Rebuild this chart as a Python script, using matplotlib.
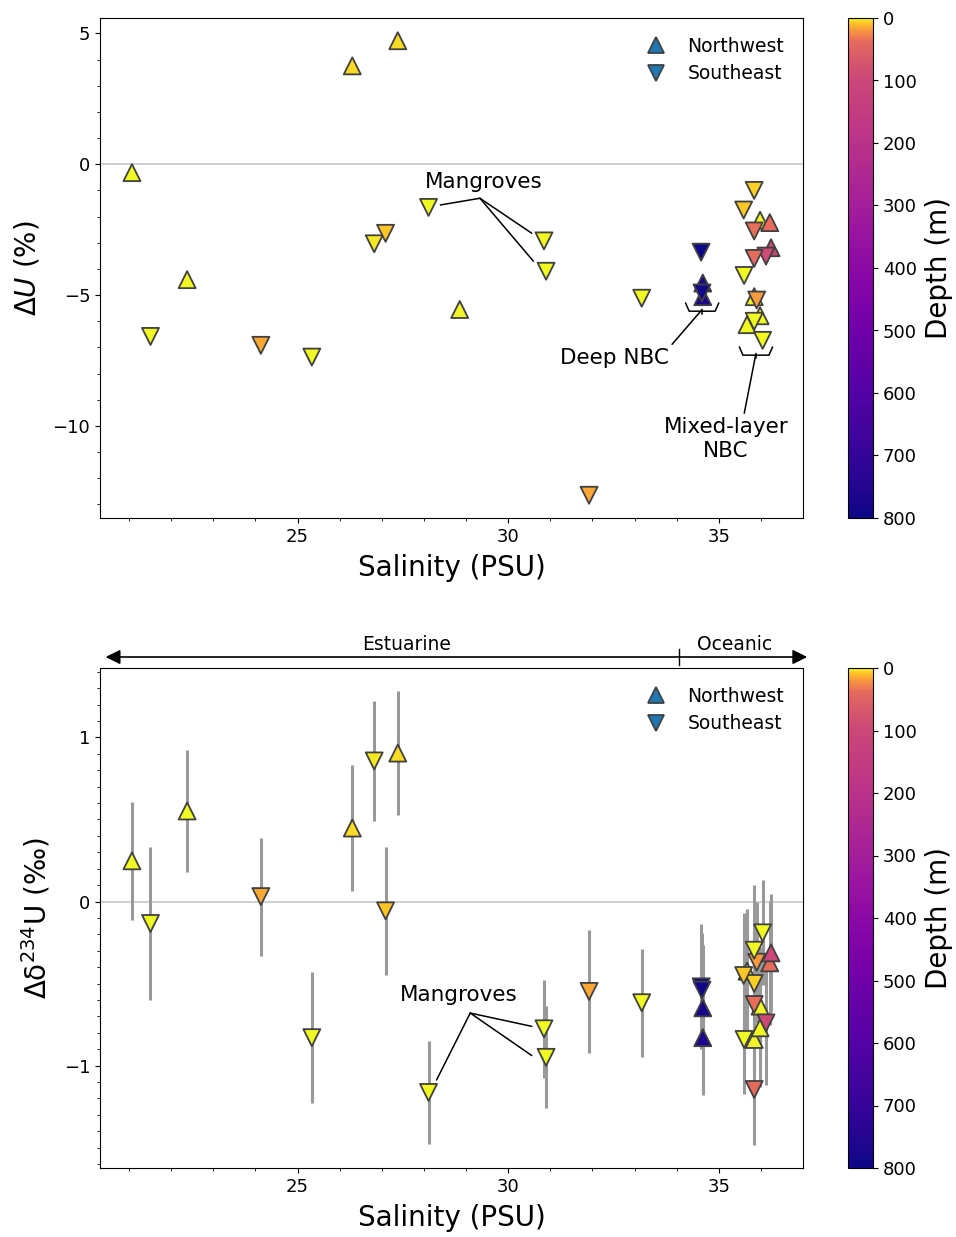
import numpy as np
import matplotlib
matplotlib.use("Agg")
import matplotlib.pyplot as plt
from matplotlib.colors import ListedColormap, Normalize
from matplotlib.ticker import MultipleLocator
from matplotlib.lines import Line2D
import matplotlib.transforms as mtransforms

# ---------------- data ----------------
salinity = [21.07, 21.51, 22.38, 24.13, 25.34, 26.30, 26.82, 27.09, 27.38, 28.11,
            28.85, 30.85, 30.90, 31.92, 33.17,
            34.58, 34.62, 34.60, 34.62,
            35.84, 35.59, 35.98, 36.21, 35.84, 36.24, 36.12, 35.84, 35.60, 35.84,
            35.90, 35.98, 35.67, 35.84, 36.04]
region = ["NW", "SE", "NW", "SE", "SE", "NW", "SE", "SE", "NW", "SE",
          "NW", "SE", "SE", "SE", "SE",
          "SE", "NW", "SE", "NW",
          "SE", "SE", "NW", "NW", "SE", "NW", "SE", "SE", "SE", "NW",
          "SE", "NW", "NW", "SE", "SE"]
depth = [0, 0, 0, 15, 0, 5, 2.4, 8, 5, 0,
         0.8, 0, 0, 16, 0,
         800, 780, 790, 770,
         7, 8, 0.8, 38, 36, 100, 95, 38, 0, 0.8,
         19, 0, 0, 0, 0]
delta_U = [-0.32, -6.58, -4.41, -6.92, -7.37, 3.76, -3.04, -2.64, 4.72, -1.65,
           -5.55, -2.93, -4.09, -12.65, -5.12,
           -3.36, -4.54, -4.92, -5.06,
           -1.00, -1.75, -2.14, -2.23, -2.55, -3.19, -3.51, -3.60, -4.25, -5.06,
           -5.19, -5.79, -6.13, -6.00, -6.73]
delta_d234U = [0.248, -0.134, 0.552, 0.03, -0.83, 0.448, 0.857, -0.057, 0.905, -1.164,
               np.nan, -0.776, -0.95, -0.548, -0.617,
               -0.52, -0.648, -0.54, -0.83,
               -0.50, -0.451, -0.638, -0.374, -0.628, -0.313, -0.74, -1.146, -0.841, -0.841,
               -0.37, -0.77, -0.425, -0.297, -0.191]
d234U_err = [0.36, 0.465, 0.37, 0.36, 0.40, 0.385, 0.364, 0.39, 0.38, 0.315,
             np.nan, 0.30, 0.31, 0.375, 0.33,
             0.38, 0.38, 0.35, 0.35,
             0.36, 0.38, 0.36, 0.38, 0.40, 0.36, 0.38, 0.34, 0.33, 0.36,
             0.37, 0.36, 0.38, 0.40, 0.32]

region_labels = {"NW": "Northwest", "SE": "Southeast"}
region_markers = {"NW": "^", "SE": "v"}
depth_ticks = [0, 100, 200, 300, 400, 500, 600, 700, 800]

sal = np.array(salinity)
reg = np.array(region)
dep = np.array(depth, dtype=float)
dU = np.array(delta_U)
d234 = np.array(delta_d234U)
derr = np.array(d234U_err)

# ---------------- style ----------------
base = plt.get_cmap("plasma_r")
_t = np.linspace(0, 1, 1024)
_pos = np.interp(_t * 800, [0, 8, 20, 38, 70, 100, 800],
                 [0, 0.12, 0.25, 0.38, 0.45, 0.5, 1.0])
cmap = ListedColormap(base(_pos))
norm = Normalize(vmin=0, vmax=800)
MS = 150
EC = "0.25"
ELW = 1.3

fig = plt.figure(figsize=(9.56, 12.37), dpi=100)
W, H = 956, 1237


def ax_rect(l, t, r, b):
    return [l / W, 1 - b / H, (r - l) / W, (b - t) / H]


ax1 = fig.add_axes(ax_rect(100, 18, 803, 518))
cax1 = fig.add_axes(ax_rect(848, 18, 873, 518))
ax2 = fig.add_axes(ax_rect(100, 668, 803, 1168))
cax2 = fig.add_axes(ax_rect(848, 668, 873, 1168))

TICK_FS = 13
LABEL_FS = 20


def draw_points(ax, y):
    sc = None
    for key in ["NW", "SE"]:
        m = (reg == key) & ~np.isnan(y)
        sc = ax.scatter(sal[m], y[m], c=dep[m], cmap=cmap, norm=norm,
                        marker=region_markers[key], s=MS, edgecolors=EC,
                        linewidths=ELW, zorder=3)
    return sc


def legend(ax):
    handles = [Line2D([], [], linestyle="none", marker=region_markers[k],
                      markersize=12, markerfacecolor="C0", markeredgecolor=EC,
                      markeredgewidth=ELW, label=region_labels[k])
               for k in ["NW", "SE"]]
    ax.legend(handles=handles, loc="upper right", frameon=False,
              fontsize=13.5, handletextpad=0.9, handlelength=1.6,
              borderaxespad=0.6, labelspacing=0.45)


def colorbar(sc, cax):
    cb = fig.colorbar(sc, cax=cax)
    cb.set_ticks(depth_ticks)
    cax.invert_yaxis()
    cax.tick_params(labelsize=TICK_FS)
    cb.set_label("Depth (m)", fontsize=LABEL_FS, labelpad=6)
    return cb


def style_axes(ax):
    ax.xaxis.set_major_locator(MultipleLocator(5))
    ax.xaxis.set_minor_locator(MultipleLocator(1))
    ax.tick_params(labelsize=TICK_FS)
    ax.set_xlabel("Salinity (PSU)", fontsize=LABEL_FS, labelpad=6)


# ---------------- top panel ----------------
ax1.axhline(0, color="0.8", lw=1.3, zorder=0)
sc1 = draw_points(ax1, dU)
style_axes(ax1)
ax1.yaxis.set_major_locator(MultipleLocator(5))
ax1.yaxis.set_minor_locator(MultipleLocator(1))
ax1.set_ylabel(r"Δ$\it{U}$ (%)", fontsize=LABEL_FS, labelpad=8)
legend(ax1)
colorbar(sc1, cax1)

ann_kw = dict(fontsize=15.5, ha="center", va="center")
line_kw = dict(arrowstyle="-", color="k", lw=1.1, shrinkA=0, shrinkB=0)
for tgt in [(28.39, -1.556), (30.56, -2.637), (30.60, -3.707)]:
    ax1.annotate("", xy=tgt, xytext=(29.33, -1.30), arrowprops=line_kw)
ax1.text(29.43, -0.66, "Mangroves", **ann_kw)


def bracket(ax, xc, ytop, text, txy, relpos):
    # bracket shape in inches, anchored at the data location
    tr = fig.dpi_scale_trans + mtransforms.ScaledTranslation(xc, ytop, ax.transData)
    xs = [-0.165, -0.13, 0.13, 0.165]
    ys = [0.0, -0.08, -0.08, 0.0]
    ax.plot(xs, ys, color="k", lw=1.1, transform=tr, clip_on=False)
    ax.plot([0, 0], [-0.08, -0.11], color="k", lw=1.1, transform=tr, clip_on=False)
    disp = ax.transData.transform((xc, ytop)) + np.array([0, -0.10 * fig.dpi])
    tip = ax.transData.inverted().transform(disp)
    ax.annotate(text, xy=tip, xytext=txy, ha="center", va="center",
                fontsize=15.5,
                arrowprops=dict(arrowstyle="-", color="k", lw=1.1,
                                shrinkA=1, shrinkB=0, relpos=relpos))


deep = dep > 500
mixed = (sal > 35.4)
bracket(ax1, np.mean(sal[deep]), dU[deep].min() - 0.25, "Deep NBC",
        (32.52, -7.41), (1.0, 1.0))
bracket(ax1, np.mean(sal[mixed]) - 0.02, dU[mixed].min() - 0.26,
        "Mixed-layer\nNBC", (35.17, -10.5), (0.64, 1.0))

# ---------------- bottom panel ----------------
ax2.axhline(0, color="0.8", lw=1.3, zorder=0)
ok = ~np.isnan(d234)
ax2.errorbar(sal[ok], d234[ok], yerr=derr[ok], fmt="none", ecolor="0.6",
             elinewidth=2.2, zorder=2)
sc2 = draw_points(ax2, d234)
style_axes(ax2)
ax2.yaxis.set_major_locator(MultipleLocator(1))
ax2.yaxis.set_minor_locator(MultipleLocator(0.1))
ax2.set_ylabel(r"Δδ$^{234}$U (‰)", fontsize=LABEL_FS, labelpad=8)
legend(ax2)
colorbar(sc2, cax2)

for tgt in [(28.30, -1.088), (30.56, -0.761), (30.56, -0.939)]:
    ax2.annotate("", xy=tgt, xytext=(29.10, -0.68), arrowprops=line_kw)
ax2.text(28.83, -0.567, "Mangroves", **ann_kw)

# Estuarine / Oceanic arrow above the bottom panel
ax2.annotate("", xy=(1.006, 1.022), xytext=(0.008, 1.022),
             xycoords="axes fraction", textcoords="axes fraction",
             arrowprops=dict(arrowstyle="<|-|>", color="k", lw=1.2,
                             mutation_scale=22, shrinkA=0, shrinkB=0),
             annotation_clip=False)
tr_mix = mtransforms.blended_transform_factory(ax2.transData, ax2.transAxes)
ax2.plot([34.05, 34.05], [1.006, 1.038], color="k", lw=1.0, transform=tr_mix,
         clip_on=False)
ax2.text(27.6, 1.027, "Estuarine", transform=tr_mix, ha="center", va="bottom",
         fontsize=13.5)
ax2.text(35.37, 1.027, "Oceanic", transform=tr_mix, ha="center", va="bottom",
         fontsize=13.5)

fig.savefig("out.png", dpi=100)
